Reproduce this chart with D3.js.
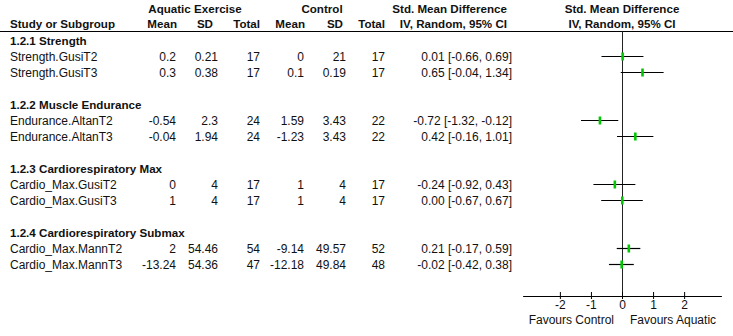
<!DOCTYPE html>
<html>
<head>
<meta charset="utf-8">
<script src="https://cdn.jsdelivr.net/npm/d3@7"></script>
<style>
  html, body { margin: 0; padding: 0; background: #fff; }
  svg { display: block; }
  text { font-family: "Liberation Sans", Arial, sans-serif; fill: #111; }
</style>
</head>
<body>
<div id="chart"></div>
<script>
// ---- data ----
const groupNames = ["1.2.1 Strength", "1.2.2 Muscle Endurance", "1.2.3 Cardiorespiratory Max", "1.2.4 Cardiorespiratory Submax"];
const studyNames = ["Strength.GusiT2", "Strength.GusiT3", "Endurance.AltanT2", "Endurance.AltanT3",
                    "Cardio_Max.GusiT2", "Cardio_Max.GusiT3", "Cardio_Max.MannT2", "Cardio_Max.MannT3"];
const studyGroup = [0, 0, 1, 1, 2, 2, 3, 3];
const aquaticMean = ["0.2", "0.3", "-0.54", "-0.04", "0", "1", "2", "-13.24"];
const aquaticSD = ["0.21", "0.38", "2.3", "1.94", "4", "4", "54.46", "54.36"];
const aquaticTotal = [17, 17, 24, 24, 17, 17, 54, 47];
const controlMean = ["0", "0.1", "1.59", "-1.23", "1", "1", "-9.14", "-12.18"];
const controlSD = ["21", "0.19", "3.43", "3.43", "4", "4", "49.57", "49.84"];
const controlTotal = [17, 17, 22, 22, 17, 17, 52, 48];
const smd = [0.01, 0.65, -0.72, 0.42, -0.24, 0.00, 0.21, -0.02];
const ciLow = [-0.66, -0.04, -1.32, -0.16, -0.92, -0.67, -0.17, -0.42];
const ciHigh = [0.69, 1.34, -0.12, 1.01, 0.43, 0.67, 0.59, 0.38];
const axisTicks = [-2, -1, 0, 1, 2];
const axisLabels = ["Favours Control", "Favours Aquatic"];

// ---- layout ----
const W = 733, H = 336;
const svg = d3.select("#chart").append("svg").attr("width", W).attr("height", H);

const x = d3.scaleLinear().domain([-3.2, 3.2]).range([522.6, 721.4]);
const axisY = 296;
const headLineY = 31.5;

const studyIndexInGroup = studyNames.map((d, i) => i - studyGroup.indexOf(studyGroup[i]));
const rowY = i => 56 + 64 * studyGroup[i] + 16 * studyIndexInGroup[i];
const groupY = g => 45 + 64 * g;

const fmt = v => v.toFixed(2);

// header
const hdr = svg.append("g").attr("font-weight", "bold").attr("font-size", "11.6px");
const headerTexts = [
  {t: "Aquatic Exercise", x: 195, y: 13, a: "middle"},
  {t: "Control", x: 322, y: 13, a: "middle"},
  {t: "Std. Mean Difference", x: 507, y: 13, a: "end"},
  {t: "Std. Mean Difference", x: 622, y: 13, a: "middle"},
  {t: "Study or Subgroup", x: 10, y: 28, a: "start"},
  {t: "Mean", x: 177, y: 28, a: "end"},
  {t: "SD", x: 213, y: 28, a: "end"},
  {t: "Total", x: 260, y: 28, a: "end"},
  {t: "Mean", x: 305, y: 28, a: "end"},
  {t: "SD", x: 343, y: 28, a: "end"},
  {t: "Total", x: 385, y: 28, a: "end"},
  {t: "IV, Random, 95% CI", x: 507, y: 28, a: "end"},
  {t: "IV, Random, 95% CI", x: 622, y: 28, a: "middle"}
];
hdr.selectAll("text").data(headerTexts).join("text")
  .attr("x", d => d.x).attr("y", d => d.y).attr("text-anchor", d => d.a).text(d => d.t);

svg.append("line").attr("x1", 0).attr("x2", W).attr("y1", headLineY).attr("y2", headLineY)
  .attr("stroke", "#000").attr("stroke-width", 1);

// group headings
svg.append("g").attr("font-weight", "bold").attr("font-size", "11.6px")
  .selectAll("text").data(groupNames).join("text")
  .attr("x", 10).attr("y", (d, g) => groupY(g)).text(d => d);

// study rows
const cols = [
  {vals: studyNames, x: 10, a: "start"},
  {vals: aquaticMean, x: 176, a: "end"},
  {vals: aquaticSD, x: 218, a: "end"},
  {vals: aquaticTotal, x: 260, a: "end"},
  {vals: controlMean, x: 304, a: "end"},
  {vals: controlSD, x: 346, a: "end"},
  {vals: controlTotal, x: 385, a: "end"},
  {vals: smd.map((v, i) => `${fmt(v)} [${fmt(ciLow[i])}, ${fmt(ciHigh[i])}]`), x: 512, a: "end"}
];
const rowsG = svg.append("g").attr("font-size", "12px");
cols.forEach(c => {
  rowsG.append("g").selectAll("text").data(c.vals).join("text")
    .attr("x", c.x).attr("y", (d, i) => rowY(i) + 4.5)
    .attr("text-anchor", c.a).text(d => d);
});

// zero line
svg.append("line").attr("x1", x(0) + 0.5).attr("x2", x(0) + 0.5)
  .attr("y1", headLineY).attr("y2", axisY)
  .attr("stroke", "#222").attr("stroke-width", 1);

// CI lines & markers
const plot = svg.append("g");
plot.selectAll("line.ci").data(smd).join("line").attr("class", "ci")
  .attr("x1", (d, i) => x(ciLow[i])).attr("x2", (d, i) => x(ciHigh[i]))
  .attr("y1", (d, i) => rowY(i) + 0.5).attr("y2", (d, i) => rowY(i) + 0.5)
  .attr("stroke", "#000").attr("stroke-width", 1.2);
plot.selectAll("rect.pt").data(smd).join("rect").attr("class", "pt")
  .attr("x", d => x(d) - 1).attr("width", 2.6)
  .attr("y", (d, i) => rowY(i) - 3.5).attr("height", 8)
  .attr("fill", "#00c800");

// axis
const axis = d3.axisBottom(x).tickValues(axisTicks).tickSizeOuter(0).tickSize(0).tickFormat(d3.format("d"));
const ax = svg.append("g").attr("transform", `translate(0,${axisY})`).call(axis);
ax.select(".domain").attr("stroke", "#000").attr("stroke-width", 1.2);
ax.selectAll(".tick line").attr("y1", -4).attr("y2", 3).attr("stroke", "#000").attr("stroke-width", 1);
ax.selectAll(".tick text").attr("y", 12.5).attr("dy", null).attr("font-size", "12px")
  .attr("font-family", "\"Liberation Sans\", Arial, sans-serif").attr("fill", "#111")
  .text(d => d < 0 ? "-" + Math.abs(d) : String(d));

svg.append("g").attr("font-size", "12px").selectAll("text").data(axisLabels).join("text")
  .attr("x", (d, i) => i === 0 ? x(0) - 8 : x(0) + 8)
  .attr("y", 324)
  .attr("text-anchor", (d, i) => i === 0 ? "end" : "start")
  .text(d => d);
</script>
</body>
</html>
